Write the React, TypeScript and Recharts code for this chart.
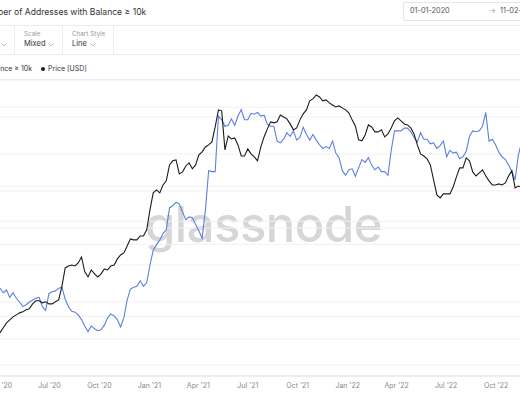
import { LineChart, Line, XAxis, YAxis, CartesianGrid } from 'recharts';

// Sampled every 6 days starting 2020-04-01
const START_DATE = '2020-04-01';
const STEP_DAYS = 6;

const priceUsd = [
    6820, 7160, 7510, 7730, 7960, 8110, 8270, 8350, 8520, 8600,
    9020, 9290, 9290, 9110, 9200, 9020, 9020, 9200, 9370, 10710,
    12750, 12990, 13120, 12990, 13380, 14170, 12280, 11690, 12510, 12040,
    11690, 12040, 12630, 12510, 12990, 13120, 13910, 14450, 14740, 15750,
    16870, 16710, 16710, 17350, 17350, 18400, 22310, 26280, 27050, 26280,
    28370, 29510, 34410, 35790, 36130, 31560, 32180, 34060, 35100, 33120,
    34410, 37890, 39030, 40920, 41720, 42970, 49620, 58500, 57940, 39780,
    45480, 44230, 44640, 41720, 37510, 37510, 40160, 38270, 37170, 35790,
    40920, 45060, 48700, 52110, 51600, 52110, 55710, 54640, 53630, 51090,
    48240, 49160, 53120, 56270, 58500, 63800, 65030, 67550, 66260, 63800,
    64410, 62570, 61340, 60170, 60730, 59610, 58500, 56820, 53120, 50080,
    43810, 43390, 45940, 50590, 49620, 47320, 47320, 48240, 45060, 46400,
    49160, 52620, 54140, 52620, 51090, 50590, 49160, 46400, 41720, 38270,
    37510, 36480, 34410, 29790, 25760, 25030, 26020, 26020, 26020, 27830,
    30650, 33430, 33430, 36820, 35790, 32180, 30930, 31870, 32810, 30930,
    29510, 28370, 28370, 28660, 28370, 28940, 30930, 32500, 27570, 28090,
    27830,
];

const addresses10k = [
    89.5, 89.0, 89.3, 88.5, 89.0, 88.4, 88.0, 87.5, 87.7, 88.0,
    88.2, 88.4, 88.5, 87.5, 87.1, 88.9, 89.1, 89.2, 89.5, 89.6,
    88.3, 87.5, 87.0, 86.9, 86.6, 86.1, 85.4, 84.8, 85.4, 85.1,
    84.9, 85.0, 85.5, 86.3, 86.7, 86.5, 86.1, 85.3, 86.3, 88.2,
    89.4, 89.6, 89.7, 90.3, 89.7, 90.1, 92.0, 93.6, 94.2, 94.7,
    95.4, 95.8, 98.2, 98.4, 98.8, 98.6, 97.7, 96.9, 97.2, 97.1,
    96.4, 95.7, 94.9, 97.9, 102.2, 102.1, 102.1, 108.1, 107.7, 107.0,
    107.1, 107.8, 107.1, 108.1, 108.8, 107.7, 107.7, 108.4, 108.3, 108.5,
    108.1, 108.2, 107.2, 107.0, 107.0, 105.4, 105.2, 105.6, 106.3, 105.9,
    106.5, 105.5, 105.8, 106.9, 106.1, 105.5, 106.1, 105.5, 105.0, 104.6,
    104.8, 104.6, 105.4, 104.1, 103.6, 102.2, 101.7, 102.3, 102.4, 101.6,
    102.5, 103.4, 103.1, 103.6, 102.8, 102.3, 102.6, 102.1, 102.1, 101.7,
    104.4, 106.5, 106.5, 106.5, 106.8, 106.8, 106.4, 105.8, 105.3, 106.3,
    105.6, 105.6, 105.1, 105.2, 104.6, 104.9, 105.4, 103.7, 104.4, 104.1,
    104.2, 103.5, 103.7, 104.3, 105.9, 106.5, 106.4, 106.5, 107.0, 108.5,
    105.4, 105.6, 105.0, 104.2, 103.7, 103.4, 102.8, 102.1, 101.2, 103.9,
    105.3,
];

const xTicks = [
    '2020-04-01', '2020-07-01', '2020-10-01', '2021-01-01', '2021-04-01', '2021-07-01',
    '2021-10-01', '2022-01-01', '2022-04-01', '2022-07-01', '2022-10-01',
];
const xDomain = ['2020-04-01', '2022-11-14'];

const addrTicks = [84, 88, 92, 96, 100, 104, 108];
const priceTicks = [5000, 8000, 16000, 20000, 24000, 28000, 60000];

const MONTHS = ['Jan', 'Feb', 'Mar', 'Apr', 'May', 'Jun', 'Jul', 'Aug', 'Sep', 'Oct', 'Nov', 'Dec'];
const DAY = 86_400_000;

const BLUE  = '#5b7fe3';
const BLACK = '#1c1c1c';
const LINE_GRAY = '#ececec';

function fmtTick(v: number): string {
    const d = new Date(v);
    return `${MONTHS[d.getUTCMonth()]} '${String(d.getUTCFullYear()).slice(2)}`;
}

const t0 = Date.parse(START_DATE);
const chartData = priceUsd.map((p, i) => ({
    t:     t0 + i * STEP_DAYS * DAY,
    price: p,
    addr:  addresses10k[i],
}));

function Chevron({ x, y }: { x: number; y: number }) {
    return (
        <svg width={6} height={4} style={{ position: 'absolute', left: x, top: y }}>
            <polyline points="0.5,0.5 3,3 5.5,0.5" fill="none" stroke="#aaa" strokeWidth={0.8} />
        </svg>
    );
}

function HLine({ y }: { y: number }) {
    return <div style={{ position: 'absolute', left: 0, top: y, width: 520, height: 1, background: LINE_GRAY }} />;
}

function VLine({ x }: { x: number }) {
    return <div style={{ position: 'absolute', left: x, top: 25, width: 1, height: 29, background: LINE_GRAY }} />;
}

export default function App() {
    return (
        <div style={{
            position: 'fixed', left: 0, top: 0, width: 520, height: 400, overflow: 'hidden',
            background: '#fff', fontFamily: 'Inter, sans-serif', color: '#333',
        }}>
            {/* header — the reference is a crop, so some texts run past the edges */}
            <div style={{ position: 'absolute', left: -21, top: 7, fontSize: 8.6, lineHeight: '10px', whiteSpace: 'nowrap' }}>
                Number of Addresses with Balance ≥ 10k
            </div>
            <div style={{
                position: 'absolute', left: 403, top: 2, width: 140, height: 17,
                border: '1px solid #e6e6e6', borderRadius: 2,
            }} />
            <div style={{ position: 'absolute', left: 410, top: 6, fontSize: 7.3, lineHeight: '10px', color: '#555', whiteSpace: 'nowrap' }}>
                01-01-2020
            </div>
            <div style={{ position: 'absolute', left: 489, top: 6, fontSize: 7.3, lineHeight: '10px', color: '#999', whiteSpace: 'nowrap' }}>
                →
            </div>
            <div style={{ position: 'absolute', left: 500, top: 6, fontSize: 7.3, lineHeight: '10px', color: '#555', whiteSpace: 'nowrap' }}>
                11-02-2022
            </div>

            <HLine y={25} />
            <HLine y={54} />
            <HLine y={79} />
            <VLine x={14} />
            <VLine x={62} />
            <VLine x={113} />

            {/* controls */}
            <Chevron x={1} y={43} />
            <div style={{ position: 'absolute', left: 24, top: 30, fontSize: 6.3, lineHeight: '8px', color: '#9a9a9a' }}>Scale</div>
            <div style={{ position: 'absolute', left: 24, top: 39, fontSize: 7.5, lineHeight: '10px' }}>Mixed</div>
            <Chevron x={48} y={43} />
            <div style={{ position: 'absolute', left: 72, top: 30, fontSize: 6.3, lineHeight: '8px', color: '#9a9a9a', whiteSpace: 'nowrap' }}>Chart Style</div>
            <div style={{ position: 'absolute', left: 72, top: 39, fontSize: 7.5, lineHeight: '10px' }}>Line</div>
            <Chevron x={90} y={43} />

            {/* legend */}
            <div style={{ position: 'absolute', left: -14, top: 64, fontSize: 7, lineHeight: '10px', whiteSpace: 'nowrap' }}>
                Balance ≥ 10k
            </div>
            <div style={{ position: 'absolute', left: 41, top: 67, width: 4, height: 4, borderRadius: 2, background: BLACK }} />
            <div style={{ position: 'absolute', left: 48, top: 64, fontSize: 7, lineHeight: '10px', whiteSpace: 'nowrap' }}>
                Price [USD]
            </div>

            {/* watermark */}
            <div style={{
                position: 'absolute', left: 145, top: 200, fontSize: 49, lineHeight: '49px',
                fontWeight: 500, color: '#d6d6d6', whiteSpace: 'nowrap', letterSpacing: -0.5,
            }}>
                glassnode
            </div>

            <div style={{ position: 'absolute', left: 0, top: 80 }}>
                <LineChart width={520} height={320} data={chartData} margin={{ top: 0, right: 0, bottom: 0, left: 0 }}>
                    <CartesianGrid yAxisId="addr" vertical={false} stroke="#f1f1f1" />
                    <CartesianGrid yAxisId="price" vertical={false} stroke="#f1f1f1" />
                    <XAxis
                        dataKey="t"
                        type="number"
                        domain={xDomain.map((d) => Date.parse(d))}
                        allowDataOverflow
                        ticks={xTicks.map((d) => Date.parse(d))}
                        interval={0}
                        tickFormatter={fmtTick}
                        height={24}
                        tickLine={false}
                        tickSize={5}
                        tickMargin={2}
                        axisLine={{ stroke: '#e6e6e6' }}
                        tick={{ fontSize: 7, fill: '#888', fontFamily: 'Inter, sans-serif' }}
                    />
                    <YAxis yAxisId="addr" hide domain={[80, 112]} ticks={addrTicks} allowDataOverflow />
                    <YAxis yAxisId="price" hide scale="log" domain={[4500, 78000]} ticks={priceTicks} allowDataOverflow />
                    <Line
                        yAxisId="addr"
                        dataKey="addr"
                        stroke={BLUE}
                        strokeWidth={1.1}
                        dot={false}
                        isAnimationActive={false}
                    />
                    <Line
                        yAxisId="price"
                        dataKey="price"
                        stroke={BLACK}
                        strokeWidth={1.1}
                        dot={false}
                        isAnimationActive={false}
                    />
                </LineChart>
            </div>
        </div>
    );
}
